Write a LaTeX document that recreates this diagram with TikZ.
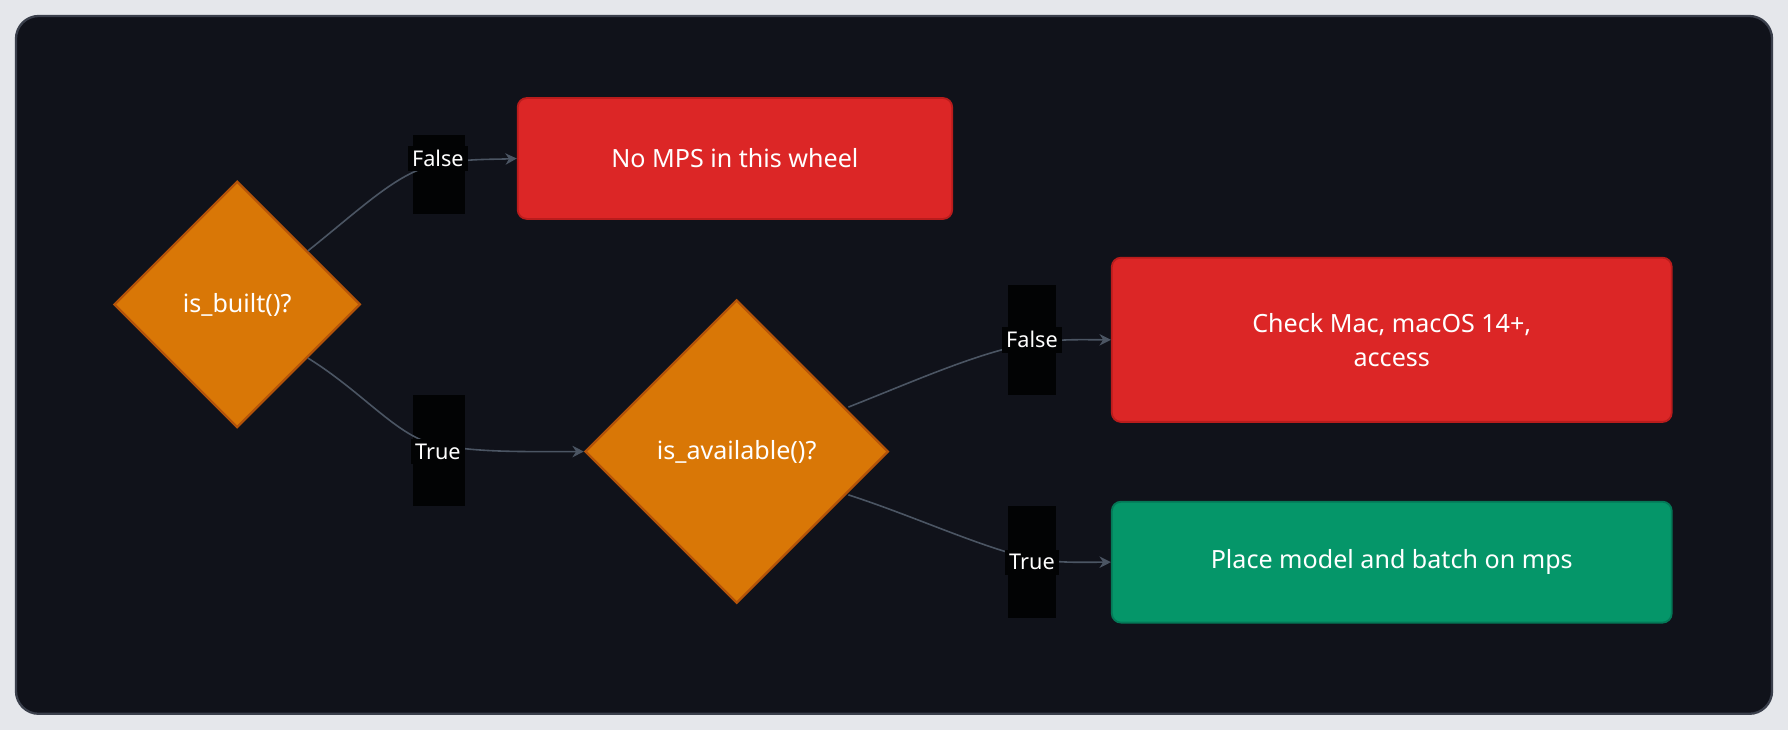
\documentclass[tikz,border=0pt]{standalone}
\usepackage{fontspec}
\setmainfont{Noto Sans}
\usetikzlibrary{shapes.geometric,arrows.meta}
\definecolor{bg}{HTML}{10121A}
\definecolor{frame}{HTML}{3A3F4B}
\definecolor{outer}{HTML}{E5E7EB}
\definecolor{dia}{HTML}{D97706}
\definecolor{diab}{HTML}{B45309}
\definecolor{redf}{HTML}{DC2626}
\definecolor{redb}{HTML}{B91C1C}
\definecolor{grf}{HTML}{059669}
\definecolor{grb}{HTML}{047857}
\definecolor{edge}{HTML}{4B5563}
\begin{document}
\begin{tikzpicture}[x=0.5pt,y=-0.5pt,
  dec/.style={diamond,draw=diab,fill=dia,line width=1pt,text=white,font=\fontsize{11}{13}\selectfont,inner sep=0pt,aspect=1},
  box/.style={draw=redb,fill=redf,rounded corners=4pt,line width=0.8pt,text=white,font=\fontsize{11}{15}\selectfont,align=center,inner sep=0pt},
  lbl/.style={fill=black!85!bg,text=white,font=\fontsize{9.5}{11}\selectfont,inner sep=2pt},
  con/.style={draw=edge,line width=0.7pt,-{Stealth[length=5pt,width=5pt]}}]
\fill[outer] (0,0) rectangle (1568,640);
\fill[bg,draw=frame,line width=1pt,rounded corners=10pt] (14,14) rectangle (1554,626);
\node[dec,minimum width=216pt*0.5,minimum height=216pt*0.5] (d1) at (208,267) {is\_built()?};
\node[dec,minimum width=266pt*0.5,minimum height=266pt*0.5] (d2) at (646,396) {is\_available()?};
\node[box,minimum width=381pt*0.5,minimum height=106pt*0.5] (b1) at (644.5,139) {No MPS in this wheel};
\node[box,minimum width=491pt*0.5,minimum height=144pt*0.5] (b2) at (1220.5,298) {Check Mac, macOS 14+,\\ access};
\node[box,draw=grb,fill=grf,minimum width=491pt*0.5,minimum height=106pt*0.5] (b3) at (1220.5,493) {Place model and batch on mps};
\fill[black!85!bg] (362,118) rectangle (408,188);
\fill[black!85!bg] (362,346) rectangle (408,444);
\fill[black!85!bg] (884,250) rectangle (926,346);
\fill[black!85!bg] (884,444) rectangle (926,542);
\coordinate (a1) at (270,220);
\coordinate (a2) at (270,314);
\coordinate (a3) at (744,357);
\coordinate (a4) at (744,434);
\draw[con] (a1) .. controls (320,180) and (350,150) .. (384,144) .. controls (410,139) and (430,140) .. (b1.west);
\draw[con] (a2) .. controls (320,345) and (350,385) .. (384,390) .. controls (420,397) and (460,396) .. (d2.west);
\draw[con] (a3) .. controls (800,335) and (860,308) .. (905,301) .. controls (930,297) and (950,298) .. (b2.west);
\draw[con] (a4) .. controls (800,452) and (860,480) .. (905,490) .. controls (930,494) and (950,493) .. (b3.west);
\node[lbl] (l1) at (384,139) {False};
\node[lbl] (l2) at (384,396) {True};
\node[lbl] (l3) at (905,298) {False};
\node[lbl] (l4) at (905,493) {True};
\end{tikzpicture}
\end{document}
